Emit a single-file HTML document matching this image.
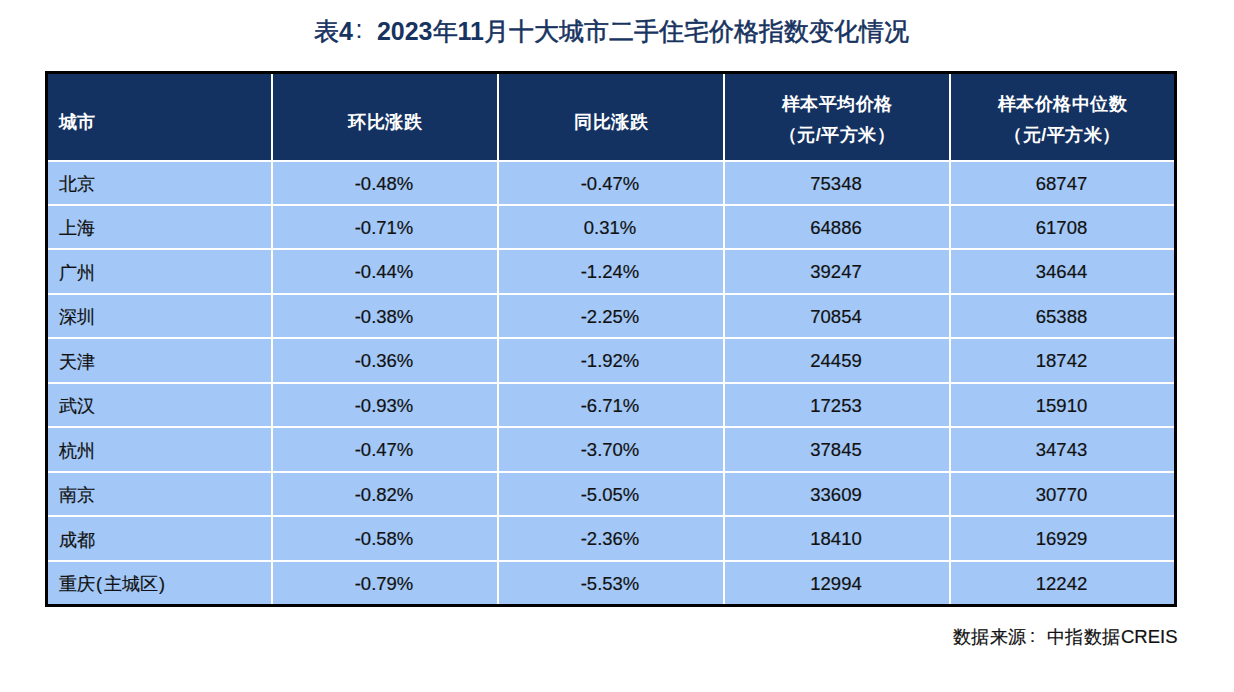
<!DOCTYPE html>
<html><head><meta charset="utf-8"><style>
html,body{margin:0;padding:0;background:#fff;width:1234px;height:692px;overflow:hidden;position:relative}
body{font-family:"Liberation Sans",sans-serif}
.a{position:absolute}
.t{position:absolute;white-space:nowrap;line-height:1}
.h{background:#133161}
.c{background:#a3c8f7}
.ht{color:#fff;font-weight:bold;font-size:18px;letter-spacing:0.5px;-webkit-text-stroke:0px #fff}
.bt{color:#111;font-size:18.5px;-webkit-text-stroke:0.2px #111}
.par{display:inline-block;margin:0 1.5px}
.cj{font-weight:400;-webkit-text-stroke:0.55px #17335f}
.col{display:inline-block;font-weight:normal;box-sizing:border-box;position:relative;top:-1.5px}
</style></head><body>

<div class="t" style="left:314px;top:18.5px;font-size:25px;font-weight:bold;color:#17335f"><span class="cj">表</span>4<span class="col" style="width:24px;padding-left:2.5px;font-weight:normal">:</span>2023<span class="cj">年</span>11<span class="cj">月十大城市二手住宅价格指数变化情况</span></div>
<div class="a" style="left:45px;top:71px;width:1132px;height:536px;background:#000"></div>
<div class="a" style="left:48px;top:74px;width:1126px;height:530px;background:#fff"></div>
<div class="a h" style="left:48px;top:74px;width:223px;height:86px"></div>
<div class="a h" style="left:273px;top:74px;width:224px;height:86px"></div>
<div class="a h" style="left:499px;top:74px;width:224px;height:86px"></div>
<div class="a h" style="left:725px;top:74px;width:224px;height:86px"></div>
<div class="a h" style="left:951px;top:74px;width:223px;height:86px"></div>
<div class="t ht" style="left:58.7px;top:112.5px">城市</div>
<div class="t ht" style="left:273px;width:224px;top:112.5px;text-align:center">环比涨跌</div>
<div class="t ht" style="left:499px;width:224px;top:112.5px;text-align:center">同比涨跌</div>
<div class="t ht" style="left:725px;width:224px;top:94.5px;text-align:center">样本平均价格</div>
<div class="t ht" style="left:725px;width:224px;top:125.5px;text-align:center">（元/平方米）</div>
<div class="t ht" style="left:951px;width:223px;top:94.5px;text-align:center">样本价格中位数</div>
<div class="t ht" style="left:951px;width:223px;top:125.5px;text-align:center">（元/平方米）</div>
<div class="a c" style="left:48px;top:162px;width:223px;height:42px"></div>
<div class="a c" style="left:273px;top:162px;width:224px;height:42px"></div>
<div class="a c" style="left:499px;top:162px;width:224px;height:42px"></div>
<div class="a c" style="left:725px;top:162px;width:224px;height:42px"></div>
<div class="a c" style="left:951px;top:162px;width:223px;height:42px"></div>
<div class="t bt" style="left:58.5px;top:175.0px;font-size:18px">北京</div>
<div class="t bt" style="left:272px;width:224px;top:174.5px;text-align:center">-0.48%</div>
<div class="t bt" style="left:498px;width:224px;top:174.5px;text-align:center">-0.47%</div>
<div class="t bt" style="left:724px;width:224px;top:174.5px;text-align:center">75348</div>
<div class="t bt" style="left:950px;width:223px;top:174.5px;text-align:center">68747</div>
<div class="a c" style="left:48px;top:206px;width:223px;height:42px"></div>
<div class="a c" style="left:273px;top:206px;width:224px;height:42px"></div>
<div class="a c" style="left:499px;top:206px;width:224px;height:42px"></div>
<div class="a c" style="left:725px;top:206px;width:224px;height:42px"></div>
<div class="a c" style="left:951px;top:206px;width:223px;height:42px"></div>
<div class="t bt" style="left:58.5px;top:219.0px;font-size:18px">上海</div>
<div class="t bt" style="left:272px;width:224px;top:218.5px;text-align:center">-0.71%</div>
<div class="t bt" style="left:498px;width:224px;top:218.5px;text-align:center">0.31%</div>
<div class="t bt" style="left:724px;width:224px;top:218.5px;text-align:center">64886</div>
<div class="t bt" style="left:950px;width:223px;top:218.5px;text-align:center">61708</div>
<div class="a c" style="left:48px;top:250px;width:223px;height:43px"></div>
<div class="a c" style="left:273px;top:250px;width:224px;height:43px"></div>
<div class="a c" style="left:499px;top:250px;width:224px;height:43px"></div>
<div class="a c" style="left:725px;top:250px;width:224px;height:43px"></div>
<div class="a c" style="left:951px;top:250px;width:223px;height:43px"></div>
<div class="t bt" style="left:58.5px;top:263.5px;font-size:18px">广州</div>
<div class="t bt" style="left:272px;width:224px;top:263.0px;text-align:center">-0.44%</div>
<div class="t bt" style="left:498px;width:224px;top:263.0px;text-align:center">-1.24%</div>
<div class="t bt" style="left:724px;width:224px;top:263.0px;text-align:center">39247</div>
<div class="t bt" style="left:950px;width:223px;top:263.0px;text-align:center">34644</div>
<div class="a c" style="left:48px;top:295px;width:223px;height:42px"></div>
<div class="a c" style="left:273px;top:295px;width:224px;height:42px"></div>
<div class="a c" style="left:499px;top:295px;width:224px;height:42px"></div>
<div class="a c" style="left:725px;top:295px;width:224px;height:42px"></div>
<div class="a c" style="left:951px;top:295px;width:223px;height:42px"></div>
<div class="t bt" style="left:58.5px;top:308.0px;font-size:18px">深圳</div>
<div class="t bt" style="left:272px;width:224px;top:307.5px;text-align:center">-0.38%</div>
<div class="t bt" style="left:498px;width:224px;top:307.5px;text-align:center">-2.25%</div>
<div class="t bt" style="left:724px;width:224px;top:307.5px;text-align:center">70854</div>
<div class="t bt" style="left:950px;width:223px;top:307.5px;text-align:center">65388</div>
<div class="a c" style="left:48px;top:339px;width:223px;height:43px"></div>
<div class="a c" style="left:273px;top:339px;width:224px;height:43px"></div>
<div class="a c" style="left:499px;top:339px;width:224px;height:43px"></div>
<div class="a c" style="left:725px;top:339px;width:224px;height:43px"></div>
<div class="a c" style="left:951px;top:339px;width:223px;height:43px"></div>
<div class="t bt" style="left:58.5px;top:352.5px;font-size:18px">天津</div>
<div class="t bt" style="left:272px;width:224px;top:352.0px;text-align:center">-0.36%</div>
<div class="t bt" style="left:498px;width:224px;top:352.0px;text-align:center">-1.92%</div>
<div class="t bt" style="left:724px;width:224px;top:352.0px;text-align:center">24459</div>
<div class="t bt" style="left:950px;width:223px;top:352.0px;text-align:center">18742</div>
<div class="a c" style="left:48px;top:384px;width:223px;height:42px"></div>
<div class="a c" style="left:273px;top:384px;width:224px;height:42px"></div>
<div class="a c" style="left:499px;top:384px;width:224px;height:42px"></div>
<div class="a c" style="left:725px;top:384px;width:224px;height:42px"></div>
<div class="a c" style="left:951px;top:384px;width:223px;height:42px"></div>
<div class="t bt" style="left:58.5px;top:397.0px;font-size:18px">武汉</div>
<div class="t bt" style="left:272px;width:224px;top:396.5px;text-align:center">-0.93%</div>
<div class="t bt" style="left:498px;width:224px;top:396.5px;text-align:center">-6.71%</div>
<div class="t bt" style="left:724px;width:224px;top:396.5px;text-align:center">17253</div>
<div class="t bt" style="left:950px;width:223px;top:396.5px;text-align:center">15910</div>
<div class="a c" style="left:48px;top:428px;width:223px;height:43px"></div>
<div class="a c" style="left:273px;top:428px;width:224px;height:43px"></div>
<div class="a c" style="left:499px;top:428px;width:224px;height:43px"></div>
<div class="a c" style="left:725px;top:428px;width:224px;height:43px"></div>
<div class="a c" style="left:951px;top:428px;width:223px;height:43px"></div>
<div class="t bt" style="left:58.5px;top:441.5px;font-size:18px">杭州</div>
<div class="t bt" style="left:272px;width:224px;top:441.0px;text-align:center">-0.47%</div>
<div class="t bt" style="left:498px;width:224px;top:441.0px;text-align:center">-3.70%</div>
<div class="t bt" style="left:724px;width:224px;top:441.0px;text-align:center">37845</div>
<div class="t bt" style="left:950px;width:223px;top:441.0px;text-align:center">34743</div>
<div class="a c" style="left:48px;top:473px;width:223px;height:42px"></div>
<div class="a c" style="left:273px;top:473px;width:224px;height:42px"></div>
<div class="a c" style="left:499px;top:473px;width:224px;height:42px"></div>
<div class="a c" style="left:725px;top:473px;width:224px;height:42px"></div>
<div class="a c" style="left:951px;top:473px;width:223px;height:42px"></div>
<div class="t bt" style="left:58.5px;top:486.0px;font-size:18px">南京</div>
<div class="t bt" style="left:272px;width:224px;top:485.5px;text-align:center">-0.82%</div>
<div class="t bt" style="left:498px;width:224px;top:485.5px;text-align:center">-5.05%</div>
<div class="t bt" style="left:724px;width:224px;top:485.5px;text-align:center">33609</div>
<div class="t bt" style="left:950px;width:223px;top:485.5px;text-align:center">30770</div>
<div class="a c" style="left:48px;top:517px;width:223px;height:43px"></div>
<div class="a c" style="left:273px;top:517px;width:224px;height:43px"></div>
<div class="a c" style="left:499px;top:517px;width:224px;height:43px"></div>
<div class="a c" style="left:725px;top:517px;width:224px;height:43px"></div>
<div class="a c" style="left:951px;top:517px;width:223px;height:43px"></div>
<div class="t bt" style="left:58.5px;top:530.5px;font-size:18px">成都</div>
<div class="t bt" style="left:272px;width:224px;top:530.0px;text-align:center">-0.58%</div>
<div class="t bt" style="left:498px;width:224px;top:530.0px;text-align:center">-2.36%</div>
<div class="t bt" style="left:724px;width:224px;top:530.0px;text-align:center">18410</div>
<div class="t bt" style="left:950px;width:223px;top:530.0px;text-align:center">16929</div>
<div class="a c" style="left:48px;top:562px;width:223px;height:42px"></div>
<div class="a c" style="left:273px;top:562px;width:224px;height:42px"></div>
<div class="a c" style="left:499px;top:562px;width:224px;height:42px"></div>
<div class="a c" style="left:725px;top:562px;width:224px;height:42px"></div>
<div class="a c" style="left:951px;top:562px;width:223px;height:42px"></div>
<div class="t bt" style="left:58.5px;top:575.0px;font-size:18px">重庆<span class="par">(</span>主城区<span class="par">)</span></div>
<div class="t bt" style="left:272px;width:224px;top:574.5px;text-align:center">-0.79%</div>
<div class="t bt" style="left:498px;width:224px;top:574.5px;text-align:center">-5.53%</div>
<div class="t bt" style="left:724px;width:224px;top:574.5px;text-align:center">12994</div>
<div class="t bt" style="left:950px;width:223px;top:574.5px;text-align:center">12242</div>
<div class="t" style="right:56.5px;top:628px;font-size:18px;color:#111;-webkit-text-stroke:0.2px #111"><span style="letter-spacing:0.5px">数据来源</span><span class="col" style="width:20px;padding-left:3px">:</span><span style="letter-spacing:0.5px">中指数据</span><span style="font-size:18.5px">CREIS</span></div>
</body></html>
